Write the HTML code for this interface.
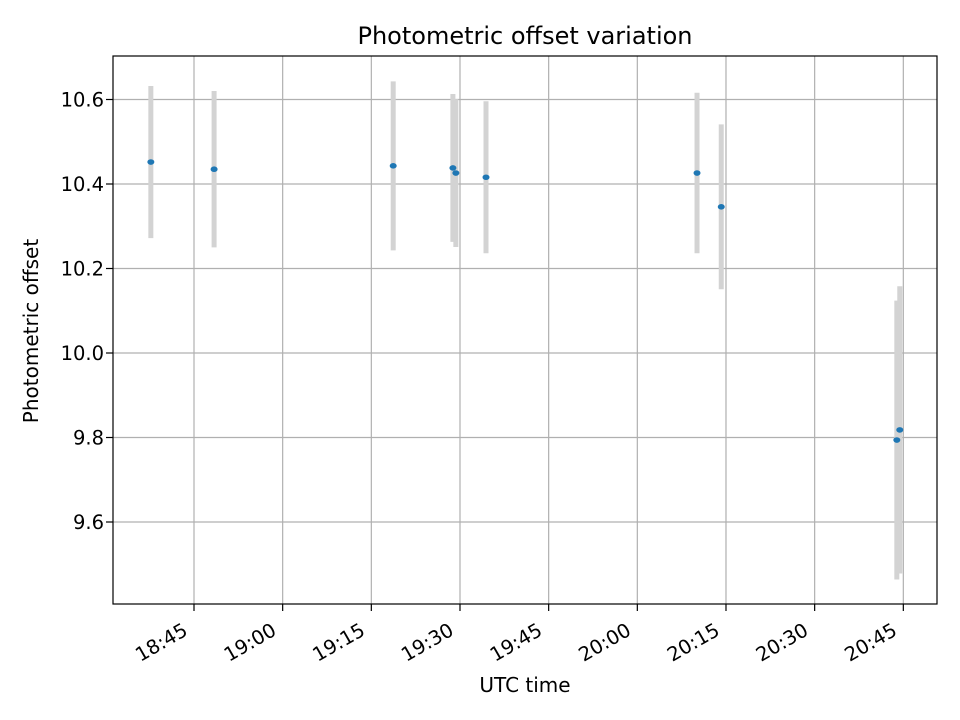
<!DOCTYPE html>
<html><head><meta charset="utf-8"><style>body{margin:0;background:#fff}svg{display:block;font-family:"DejaVu Sans","Liberation Sans",sans-serif}</style></head>
<body>
<svg id="chart" width="960" height="720">
<text x="525" y="44" font-size="24" text-anchor="middle">Photometric offset variation</text>
<g id="grid"></g><g id="bars"></g><g id="pts"></g>
<rect x="113" y="56" width="824" height="548" fill="none" stroke="#000" stroke-width="1.2"/>
<g id="axes"></g>
<text x="525" y="692" font-size="20" text-anchor="middle">UTC time</text>
<text transform="translate(38,331) rotate(-90)" font-size="20" text-anchor="middle">Photometric offset</text>
</svg>
<script>
const times=["18:37.7","18:48.4","19:18.7","19:28.8","19:29.3","19:34.4","20:10.1","20:14.2","20:43.9","20:44.4"];
const offsets=[10.452,10.435,10.443,10.438,10.426,10.416,10.426,10.346,9.794,9.818];
const errors=[0.18,0.185,0.2,0.175,0.175,0.18,0.19,0.195,0.33,0.34];
const xTicks=["18:45","19:00","19:15","19:30","19:45","20:00","20:15","20:30","20:45"];
const yTicks=[9.6,9.8,10.0,10.2,10.4,10.6];
const NS="http://www.w3.org/2000/svg";
function mins(t){const [h,m]=t.split(":");return +h*60+ +m;}
const x0=mins("18:45"),px0=194,pxPerMin=5.911;
function X(t){return px0+(mins(t)-x0)*pxPerMin;}
function Y(v){return 353-(v-10)*422.5;}
function mk(tag,a,p){const e=document.createElementNS(NS,tag);for(const k in a)e.setAttribute(k,a[k]);document.getElementById(p).appendChild(e);return e;}
xTicks.forEach(t=>{const x=X(t);
 const g=mk("line",{x1:x,x2:x,y1:56,y2:604,stroke:"#b0b0b0","stroke-width":1.2},"grid");
 
 
 mk("line",{x1:x,x2:x,y1:604,y2:611,stroke:"#000","stroke-width":1.2},"axes");
 const ax=x-5,ay=634;
 const tx=mk("text",{x:ax,y:ay,"font-size":19.5,"text-anchor":"end",transform:`rotate(-30 ${ax} ${ay})`},"axes");
 
 
 tx.textContent=t;});
yTicks.forEach(v=>{const y=Y(v);
 const g=mk("line",{x1:113,x2:937,y1:y,y2:y,stroke:"#b0b0b0","stroke-width":1.2},"grid");
 
 
 mk("line",{x1:106,x2:113,y1:y,y2:y,stroke:"#000","stroke-width":1.2},"axes");
 const tx=mk("text",{x:104,y:y+7,"font-size":19.5,"text-anchor":"end"},"axes");
 
 
 tx.textContent=v.toFixed(1);});
times.forEach((t,i)=>{const x=X(t);
 const b=mk("line",{x1:x,x2:x,y1:Y(offsets[i]+errors[i]),y2:Y(offsets[i]-errors[i]),stroke:"#d3d3d3","stroke-width":5},"bars");
 
 
 const p=mk("ellipse",{cx:x,cy:Y(offsets[i]),rx:3.5,ry:2.8,fill:"#1f77b4"},"pts");
 
 });
</script>
</body></html>
